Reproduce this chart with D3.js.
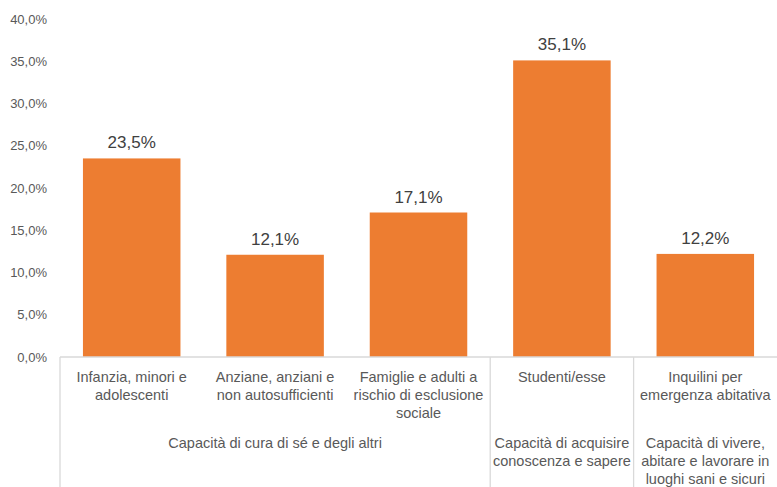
<!DOCTYPE html>
<html lang="it">
<head>
  <meta charset="utf-8">
  <script src="https://d3js.org/d3.v7.min.js"></script>
  <style>
    body { margin: 0; background: #fff; }
    text { font-family: "Liberation Sans", Arial, sans-serif; }
  </style>
</head>
<body>
  <script type="text/javascript">
    // categories (lines of each label) and values
    var categories = [
      ["Infanzia, minori e", "adolescenti"],
      ["Anziane, anziani e", "non autosufficienti"],
      ["Famiglie e adulti a", "rischio di esclusione", "sociale"],
      ["Studenti/esse"],
      ["Inquilini per", "emergenza abitativa"]
    ];
    var values = [23.5, 12.1, 17.1, 35.1, 12.2];

    // outer level of the category axis: label lines and how many categories it spans
    var groupLabels = [
      ["Capacità di cura di sé e degli altri"],
      ["Capacità di acquisire", "conoscenza e sapere"],
      ["Capacità di vivere,", "abitare e lavorare in", "luoghi sani e sicuri"]
    ];
    var groupSpans = [3, 1, 1];

    var yTicks = [0, 5, 10, 15, 20, 25, 30, 35, 40];

    // dimensions
    var dim = {
      "width": 777,
      "height": 487,
      "left": 60,
      "right": 777,
      "top": 19,
      "bottom": 357,
      "lineHeight": 18
    };

    var fmt = function(v) {
      return v.toFixed(1).replace(".", ",") + "%";
    };

    var svg = d3.select("body")
      .append("svg")
      .attr("width", dim.width)
      .attr("height", dim.height);

    var xScale = d3.scaleBand()
      .domain(d3.range(categories.length))
      .range([dim.left, dim.right])
      .paddingInner(0.32)
      .paddingOuter(0.16);

    var slot = d3.scaleBand()
      .domain(d3.range(categories.length))
      .range([dim.left, dim.right]);

    var yScale = d3.scaleLinear()
      .domain([0, 40])
      .range([dim.bottom, dim.top]);

    // y axis labels (no line)
    var yAxis = d3.axisLeft(yScale)
      .tickValues(yTicks)
      .tickFormat(fmt)
      .tickSize(0)
      .tickPadding(13);

    var gy = svg.append("g")
      .attr("transform", "translate(" + dim.left + ",0)")
      .call(yAxis);
    gy.select(".domain").remove();
    gy.selectAll("text")
      .attr("fill", "#595959")
      .style("font-size", "13px")
      .style("font-family", "'Liberation Sans', Arial, sans-serif");

    // bars
    svg.selectAll("rect.bar")
      .data(values)
      .enter()
      .append("rect")
      .attr("class", "bar")
      .attr("x", function(d, i) { return xScale(i); })
      .attr("y", function(d) { return yScale(d); })
      .attr("width", xScale.bandwidth())
      .attr("height", function(d) { return yScale(0) - yScale(d); })
      .attr("fill", "#ED7D31");

    // data labels
    svg.selectAll("text.value")
      .data(values)
      .enter()
      .append("text")
      .attr("class", "value")
      .attr("x", function(d, i) { return xScale(i) + xScale.bandwidth() / 2; })
      .attr("y", function(d) { return yScale(d) - 10; })
      .attr("text-anchor", "middle")
      .attr("fill", "#404040")
      .style("font-size", "17px")
      .text(fmt);

    // category axis line
    svg.append("line")
      .attr("x1", dim.left).attr("x2", dim.right)
      .attr("y1", yScale(0)).attr("y2", yScale(0))
      .attr("stroke", "#D9D9D9")
      .attr("stroke-width", 1.3);

    // inner category labels
    categories.forEach(function(lines, i) {
      var t = svg.append("text")
        .attr("text-anchor", "middle")
        .attr("fill", "#595959")
        .style("font-size", "14.5px");
      lines.forEach(function(line, k) {
        t.append("tspan")
          .attr("x", slot(i) + slot.bandwidth() / 2)
          .attr("y", 382 + k * dim.lineHeight)
          .text(line);
      });
    });

    // outer group labels and separators
    var start = 0;
    groupLabels.forEach(function(lines, g) {
      var x0 = slot(start);
      var x1 = slot(start + groupSpans[g] - 1) + slot.bandwidth();

      svg.append("line")
        .attr("x1", x0).attr("x2", x0)
        .attr("y1", yScale(0)).attr("y2", dim.height)
        .attr("stroke", "#D9D9D9")
        .attr("stroke-width", 1.3);

      var t = svg.append("text")
        .attr("text-anchor", "middle")
        .attr("fill", "#595959")
        .style("font-size", "14.5px");
      lines.forEach(function(line, k) {
        t.append("tspan")
          .attr("x", (x0 + x1) / 2)
          .attr("y", 448 + k * dim.lineHeight)
          .text(line);
      });
      start += groupSpans[g];
    });
  </script>
</body>
</html>
